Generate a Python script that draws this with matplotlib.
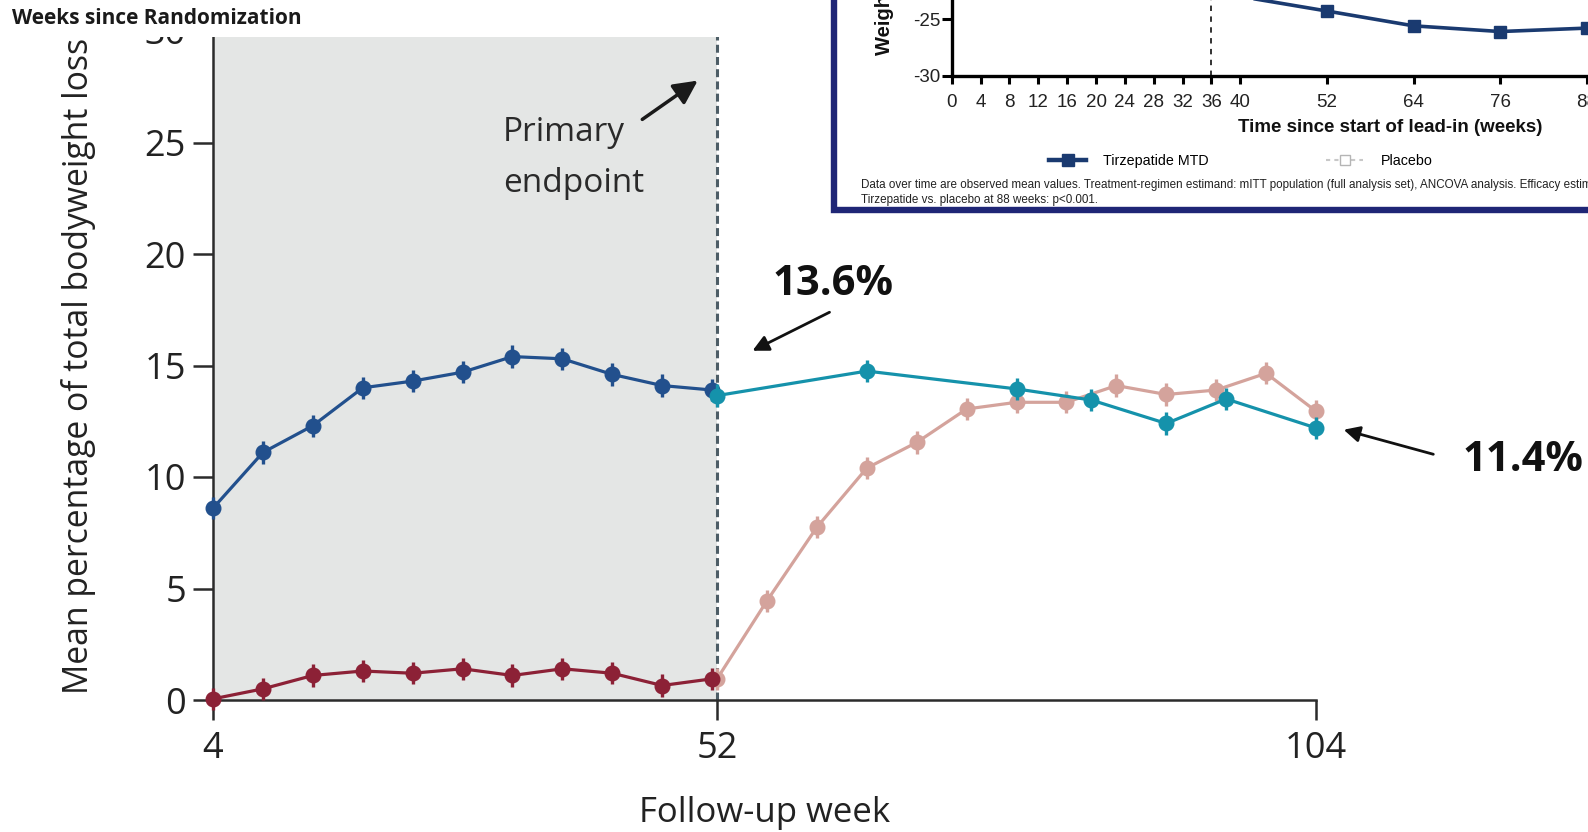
import matplotlib
matplotlib.use("Agg")
import matplotlib.pyplot as plt
from matplotlib.patches import Rectangle, FancyArrowPatch
from matplotlib.lines import Line2D
from matplotlib import font_manager as fm

# ---------------- data ----------------
# main chart: follow-up visits (visit slots), % total bodyweight loss
visits_p1 = [0, 1, 2, 3, 4, 5, 6, 7, 8, 9, 10]
blue_p1 = [8.6, 11.1, 12.3, 14.0, 14.3, 14.7, 15.4, 15.3, 14.6, 14.1, 13.9]
red_p1 = [0.05, 0.5, 1.1, 1.3, 1.2, 1.4, 1.1, 1.4, 1.2, 0.65, 0.95]
visits_pink = [10.1, 11.1, 12.1, 13.1, 14.1, 15.1, 16.1, 17.1, 18.1, 19.1, 20.1, 21.1, 22.1]
pink_p2 = [0.95, 4.45, 7.75, 10.4, 11.55, 13.05, 13.35, 13.35, 14.1, 13.7, 13.9, 14.65, 12.95]
visits_teal = [10.1, 13.1, 16.1, 17.6, 19.1, 20.3, 22.1]
teal_p2 = [13.65, 14.75, 13.95, 13.45, 12.4, 13.5, 12.2]
err = 0.5
xtick_pos = [0, 10.1, 22.1]
xtick_labels = ["4", "52", "104"]
yticks = [0, 5, 10, 15, 20, 25, 30]
primary_endpoint_visit = 10.1

# inset chart: weeks since start of lead-in, weight change (%)
inset_weeks = [36, 52, 64, 76, 88]
inset_vals = [-22.6, -24.3, -25.6, -26.1, -25.8]
inset_xticks = [0, 4, 8, 12, 16, 20, 24, 28, 32, 36, 40, 52, 64, 76, 88]
inset_yticks = [-30, -25]
inset_rand_week = 36

# ---------------- helpers ----------------
W, H = 1588, 832
def fx(x): return x / W
def fy(y): return 1 - y / H

names = {f.name for f in fm.fontManager.ttflist}
NARROW = "Liberation Sans Narrow" if "Liberation Sans Narrow" in names else "Liberation Sans"
MAINF = "Open Sans"

BLUE = "#22508D"
RED = "#8C2136"
TEAL = "#1592AB"
PINK = "#D4A39C"
SHADE = "#E4E6E5"
NAVY = "#1A3A70"
BORDER = "#1F2676"

fig = plt.figure(figsize=(W / 100, H / 100), dpi=100)
fig.patch.set_facecolor("white")

# ---------------- main axes ----------------
ax = fig.add_axes([fx(213), fy(700), (1316 - 213) / W, (700 - 31) / H])
ax.set_xlim(0, 22.1)
ax.set_ylim(0, 30)
ax.axvspan(0, primary_endpoint_visit, color=SHADE, zorder=0, lw=0)
ax.axvline(primary_endpoint_visit, color="#4D5D66", lw=2.2, ls=(0, (2.6, 1.4)), zorder=1)

def series(x, y, color, z):
    c = ax.errorbar(x, y, yerr=err, fmt="-o", color=color, ms=10.5, lw=2.3,
                    elinewidth=2.4, capsize=0, zorder=z, mec=color)
    for art in c.get_children():
        art.set_clip_on(False)
    c.lines[0].set_zorder(z + 0.1)

series(visits_pink, pink_p2, PINK, 2)
series(visits_p1, red_p1, RED, 3)
series(visits_p1, blue_p1, BLUE, 3)
series(visits_teal, teal_p2, TEAL, 4)

for s in ["top", "right"]:
    ax.spines[s].set_visible(False)
for s in ["left", "bottom"]:
    ax.spines[s].set_color("#2B2B2B")
    ax.spines[s].set_linewidth(1.8)
ax.set_xticks(xtick_pos)
ax.set_xticklabels(xtick_labels)
ax.set_yticks(yticks)
ax.tick_params(axis="both", length=14.4, width=1.8, color="#2B2B2B",
               labelsize=26, labelcolor="#222222")
ax.tick_params(axis="y", pad=5)
ax.tick_params(axis="x", pad=8)
for lab in ax.get_xticklabels() + ax.get_yticklabels():
    lab.set_family(MAINF)
ax.set_ylabel("Mean percentage of total bodyweight loss", family=MAINF,
              fontsize=24.3, color="#222222")
ax.yaxis.set_label_coords((96 - 213) / 1103, 0.5)
ax.set_xlabel("Follow-up week", family=MAINF, fontsize=25, color="#222222")
ax.xaxis.set_label_coords(0.5, -0.143)

# annotations in main chart
fig.text(fx(503), fy(141), "Primary", family=MAINF, fontsize=24, color="#2A2A2A",
         ha="left", va="baseline")
fig.text(fx(503), fy(192), "endpoint", family=MAINF, fontsize=24, color="#2A2A2A",
         ha="left", va="baseline")
fig.add_artist(FancyArrowPatch((fx(640), fy(121)), (fx(700), fy(79)),
                               transform=fig.transFigure, arrowstyle="-|>",
                               mutation_scale=36, lw=2.5, color="#1A1A1A"))
fig.text(fx(773), fy(295), "13.6%", family=MAINF, fontweight="bold", fontsize=30,
         color="#111111", ha="left", va="baseline")
fig.add_artist(FancyArrowPatch((fx(832), fy(311)), (fx(750), fy(352)),
                               transform=fig.transFigure, arrowstyle="-|>",
                               mutation_scale=24, lw=2.0, color="#111111"))
fig.text(fx(1463), fy(471), "11.4%", family=MAINF, fontweight="bold", fontsize=30,
         color="#111111", ha="left", va="baseline")
fig.add_artist(FancyArrowPatch((fx(1436), fy(455)), (fx(1341), fy(429)),
                               transform=fig.transFigure, arrowstyle="-|>",
                               mutation_scale=24, lw=2.0, color="#111111"))

# top-left banner
fig.add_artist(Rectangle((0, fy(36.5)), fx(832), 36.5 / H, transform=fig.transFigure,
                         facecolor="white", edgecolor="none", zorder=5))
fig.text(fx(12), fy(19), "Weeks since Randomization", family=MAINF, fontweight="bold",
         fontsize=15, color="#1A1A1A", ha="left", va="center", zorder=6)

# ---------------- inset ----------------
fig.add_artist(Rectangle((fx(834), fy(210)), fx(800), 220 / H, transform=fig.transFigure,
                         facecolor="white", edgecolor=BORDER, lw=4.6, zorder=7))

iax = fig.add_axes([fx(951.7), fy(76), (W - 951.7) / W, 76 / H], zorder=8)
iax.patch.set_alpha(0)
iax.set_xlim(0, (W - 951.7) / 7.216)
iax.set_ylim(-30, -25 + 19 / 11.4)
iax.plot(inset_weeks, inset_vals, "-s", color=NAVY, lw=2.6, ms=8.5, zorder=3,
         markevery=[1, 2, 3, 4])
iax.axvline(inset_rand_week, color="#222222", lw=1.3, ls=(0, (3, 3)), zorder=2)
for s in ["top", "right"]:
    iax.spines[s].set_visible(False)
for s in ["left", "bottom"]:
    iax.spines[s].set_linewidth(2.4)
    iax.spines[s].set_color("black")
iax.set_xticks(inset_xticks)
iax.set_xticklabels([str(v) for v in inset_xticks])
iax.set_yticks(inset_yticks)
iax.set_yticklabels([str(v) for v in inset_yticks])
iax.tick_params(axis="x", length=6, width=2.2, pad=7, labelsize=13.5)
iax.tick_params(axis="y", length=7, width=2.2, pad=1, labelsize=13.5)
for lab in iax.get_xticklabels() + iax.get_yticklabels():
    lab.set_family(NARROW)
    lab.set_color("#222222")

fig.text(fx(884), fy(55), "Weight change (%)", family=NARROW, fontweight="bold",
         fontsize=14.5, rotation=90, ha="center", va="bottom", color="#111111", zorder=9)
fig.text(fx(1390), fy(127), "Time since start of lead-in (weeks)", family=NARROW,
         fontweight="bold", fontsize=13.5, ha="center", va="center", color="#111111", zorder=9)

handles = [Line2D([], [], color=NAVY, lw=3.2, marker="s", ms=8),
           Line2D([], [], color="#C8C8C8", lw=1.5, ls=(0, (2, 2)), marker="s", ms=7,
                  mfc="white", mec="#B5B5B5")]
leg = fig.legend(handles, ["Tirzepatide MTD", "Placebo"], ncol=2, loc="center left",
                 bbox_to_anchor=(fx(1049), fy(161)), frameon=False, borderpad=0,
                 borderaxespad=0, handlelength=2.6, handletextpad=1.2,
                 columnspacing=8.2, prop={"family": "Liberation Sans", "size": 10.3})
leg.set_zorder(9)

fig.text(fx(861), fy(185),
         "Data over time are observed mean values. Treatment-regimen estimand: mITT population "
         "(full analysis set), ANCOVA analysis. Efficacy estimand: mITT population (on-treatment), MMRM analysis.",
         family="Liberation Sans", fontsize=8.4, ha="left", va="center", color="#222222", zorder=9)
fig.text(fx(861), fy(200), "Tirzepatide vs. placebo at 88 weeks: p<0.001.",
         family="Liberation Sans", fontsize=8.4, ha="left", va="center", color="#222222", zorder=9)

fig.savefig("out.png", dpi=100, facecolor="white")
